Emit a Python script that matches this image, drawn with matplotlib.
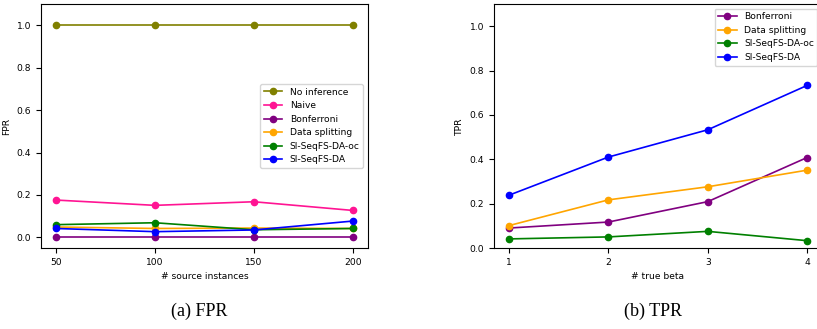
import matplotlib.pyplot as plt

n_source = [50, 100, 150, 200]
fpr_no_inference = [1.0, 1.0, 1.0, 1.0]
fpr_naive = [0.176, 0.151, 0.168, 0.127]
fpr_bonferroni = [0.0, 0.0, 0.0, 0.0]
fpr_data_splitting = [0.049, 0.042, 0.044, 0.042]
fpr_oc = [0.060, 0.069, 0.036, 0.042]
fpr_da = [0.042, 0.027, 0.035, 0.077]

n_true_beta = [1, 2, 3, 4]
tpr_bonferroni = [0.090, 0.117, 0.209, 0.408]
tpr_data_splitting = [0.101, 0.217, 0.276, 0.351]
tpr_oc = [0.041, 0.050, 0.075, 0.033]
tpr_da = [0.238, 0.410, 0.533, 0.733]

fs = 6.6
ms = 4.5
lw = 1.2

fig = plt.figure(figsize=(8.17, 3.29), dpi=100)
ax1 = fig.add_axes([0.0502, 0.2462, 0.400, 0.7416])
ax2 = fig.add_axes([0.6047, 0.2462, 0.4015, 0.7416])

ax1.plot(n_source, fpr_no_inference, 'o-', color='olive', ms=ms, lw=lw, label='No inference')
ax1.plot(n_source, fpr_naive, 'o-', color='deeppink', ms=ms, lw=lw, label='Naive')
ax1.plot(n_source, fpr_bonferroni, 'o-', color='purple', ms=ms, lw=lw, label='Bonferroni')
ax1.plot(n_source, fpr_data_splitting, 'o-', color='orange', ms=ms, lw=lw, label='Data splitting')
ax1.plot(n_source, fpr_oc, 'o-', color='green', ms=ms, lw=lw, label='SI-SeqFS-DA-oc')
ax1.plot(n_source, fpr_da, 'o-', color='blue', ms=ms, lw=lw, label='SI-SeqFS-DA')
ax1.set_ylim(-0.05, 1.1)
ax1.set_xticks(n_source)
ax1.set_xlabel('# source instances', fontsize=fs)
ax1.set_ylabel('FPR', fontsize=fs)
ax1.legend(loc='center right', fontsize=fs)

ax2.plot(n_true_beta, tpr_bonferroni, 'o-', color='purple', ms=ms, lw=lw, label='Bonferroni')
ax2.plot(n_true_beta, tpr_data_splitting, 'o-', color='orange', ms=ms, lw=lw, label='Data splitting')
ax2.plot(n_true_beta, tpr_oc, 'o-', color='green', ms=ms, lw=lw, label='SI-SeqFS-DA-oc')
ax2.plot(n_true_beta, tpr_da, 'o-', color='blue', ms=ms, lw=lw, label='SI-SeqFS-DA')
ax2.set_ylim(0, 1.1)
ax2.set_xticks(n_true_beta)
ax2.set_xlabel('# true beta', fontsize=fs)
ax2.set_ylabel('TPR', fontsize=fs)
ax2.legend(loc='upper right', fontsize=fs)

for ax in (ax1, ax2):
    ax.tick_params(labelsize=fs)
    ax.set_yticks([0.0, 0.2, 0.4, 0.6, 0.8, 1.0])

fig.text(0.2436, 0.055, '(a) FPR', ha='center', va='center',
         fontsize=13, family='Liberation Serif')
fig.text(0.7993, 0.055, '(b) TPR', ha='center', va='center',
         fontsize=13, family='Liberation Serif')

fig.savefig('out.png', dpi=100)
